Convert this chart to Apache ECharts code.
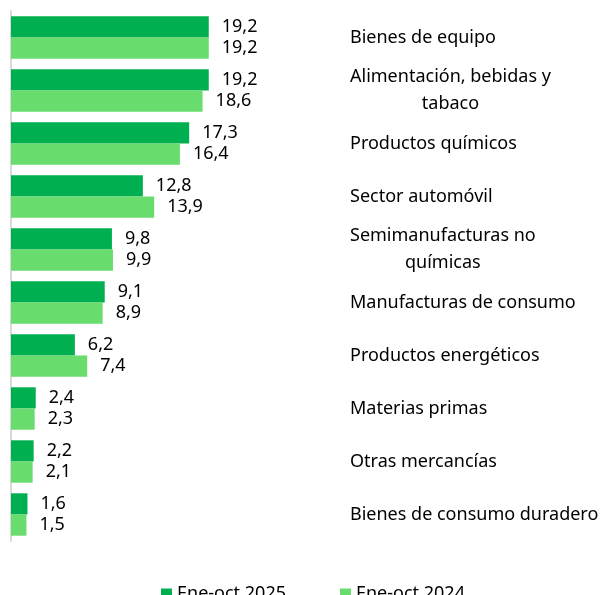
<!DOCTYPE html>
<html>
<head>
<meta charset="utf-8">
<script src="https://cdn.jsdelivr.net/npm/echarts@6/dist/echarts.min.js"></script>
<style>
  html, body { margin: 0; padding: 0; background: #fff; }
  #chart { width: 612px; height: 595px; }
</style>
</head>
<body>
<div id="chart"></div>
<script>
// categorias de arriba abajo
const categories = [
  "Bienes de equipo",
  "Alimentación, bebidas y\ntabaco",
  "Productos químicos",
  "Sector automóvil",
  "Semimanufacturas no\nquímicas",
  "Manufacturas de consumo",
  "Productos energéticos",
  "Materias primas",
  "Otras mercancías",
  "Bienes de consumo duradero"
];
const serie2025 = [19.2, 19.2, 17.3, 12.8, 9.8, 9.1, 6.2, 2.4, 2.2, 1.6];
const serie2024 = [19.2, 18.6, 16.4, 13.9, 9.9, 8.9, 7.4, 2.3, 2.1, 1.5];
const seriesNames = ["Ene-oct 2025", "Ene-oct 2024"];

const fontFamily = "Noto Sans";
const fmt = (v) => v.toFixed(1).replace(".", ",");

const myChart = echarts.init(document.getElementById("chart"));
myChart.setOption({
  animation: false,
  textStyle: { fontFamily: fontFamily },
  grid: { left: 11, top: 11, width: 206, bottom: 54, containLabel: false },
  legend: {
    data: seriesNames,
    left: 156,
    top: 580,
    icon: "rect",
    itemWidth: 11,
    itemHeight: 11,
    itemGap: 54,
    textStyle: { fontSize: 18, color: "#000", fontFamily: fontFamily }
  },
  xAxis: {
    type: "value",
    min: 0,
    max: 20,
    show: false
  },
  yAxis: [
    {
      type: "category",
      data: categories,
      inverse: true,
      position: "left",
      axisLine: { show: true, lineStyle: { color: "#d9d9d9", width: 2 } },
      axisTick: { show: false },
      axisLabel: { show: false }
    },
    {
      type: "category",
      data: categories,
      inverse: true,
      position: "right",
      axisLine: { show: false },
      axisTick: { show: false },
      axisLabel: {
        margin: 133,
        align: "left",
        color: "#000",
        fontSize: 18,
        lineHeight: 27,
        formatter: (val) => {
          const parts = val.split("\n");
          if (parts.length === 1) return val;
          return "{a|" + parts[0] + "}\n{b|" + parts[1] + "}";
        },
        rich: {
          a: { fontSize: 18, lineHeight: 27, color: "#000", fontFamily: fontFamily },
          b: { fontSize: 18, lineHeight: 27, color: "#000", fontFamily: fontFamily, align: "center" }
        }
      }
    }
  ],
  series: [
    {
      name: seriesNames[0],
      type: "bar",
      yAxisIndex: 0,
      data: serie2025,
      barGap: "0%",
      barCategoryGap: "20%",
      itemStyle: { color: "#00b050" },
      label: {
        show: true,
        position: "right",
        distance: 13,
        fontSize: 18,
        color: "#000",
        formatter: (p) => fmt(p.value)
      }
    },
    {
      name: seriesNames[1],
      type: "bar",
      yAxisIndex: 0,
      data: serie2024,
      itemStyle: { color: "#68dc6c" },
      label: {
        show: true,
        position: "right",
        distance: 13,
        fontSize: 18,
        color: "#000",
        formatter: (p) => fmt(p.value)
      }
    }
  ]
});
</script>
</body>
</html>
